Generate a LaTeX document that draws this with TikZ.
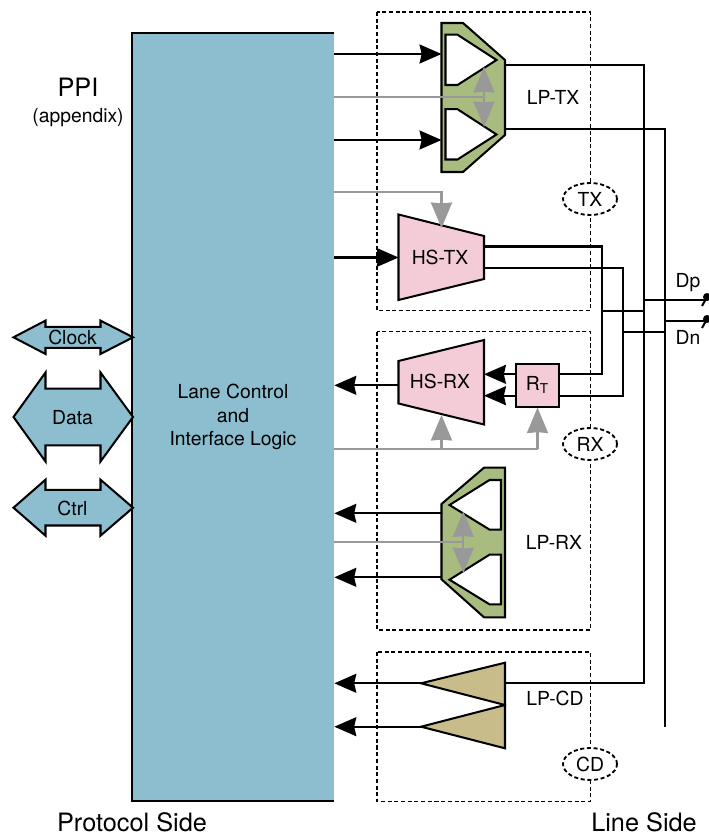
\documentclass[tikz,border=0pt]{standalone}
\usepackage{fontspec}
\setmainfont{TeX Gyre Heros}
\usetikzlibrary{arrows.meta,positioning,shapes.geometric}
\definecolor{lanecyan}{RGB}{140,190,207}
\definecolor{lanepink}{RGB}{244,204,216}
\definecolor{lanegreen}{RGB}{168,188,128}
\definecolor{lanetan}{RGB}{200,188,138}
\definecolor{lanegray}{RGB}{153,153,153}
\tikzset{
  wire/.style={line width=1.15pt},
  sigarrow/.style={wire, -{Stealth[length=12.5pt,width=10.8pt,inset=1.2pt]}},
  ctlline/.style={line width=1.15pt, lanegray},
  ctlarrow/.style={ctlline, -{Stealth[length=14.5pt,width=12pt,inset=0.5pt]}},
  ctlboth/.style={ctlline, {Stealth[length=14.5pt,width=12pt,inset=0.5pt]}-{Stealth[length=14.5pt,width=12pt,inset=0.5pt]}},
  block/.style={draw, line width=1.15pt, line join=miter},
  zonebox/.style={draw, line width=1.05pt, dash pattern=on 2.3pt off 1.5pt},
  zonetag/.style={ellipse, draw, fill=white, line width=1.05pt, dash pattern=on 2.3pt off 1.5pt,
    minimum width=1.08cm, minimum height=0.64cm, inner sep=0pt, font=\fontsize{11}{13}\selectfont},
  lbl/.style={inner sep=0pt, font=\fontsize{11}{13}\selectfont},
  biglbl/.style={inner sep=0pt, font=\fontsize{14.4}{16}\selectfont}
}
\begin{document}
\begin{tikzpicture}[x=0.02cm,y=-0.02cm]
  \useasboundingbox (0,0) rectangle (709,834);
  % Dashed zones
  \draw[zonebox] (377,12) rectangle (590.5,310.5);
  \draw[zonebox] (377,331.5) rectangle (590.5,630);
  \draw[zonebox] (377,652) rectangle (590.5,801.5);
  \node[zonetag] (tagtx) at (590,199) {TX};
  \node[zonetag] (tagrx) at (590,444) {RX};
  \node[zonetag] (tagcd) at (590,764) {CD};
  % Protocol block, open on its right side
  \node[fill=lanecyan, minimum width=4.04cm, minimum height=15.36cm, inner sep=0pt, align=center,
        font=\fontsize{11}{13.4}\selectfont] (logic) at (233,417) {Lane Control\\and\\Interface Logic};
  \draw[wire] (logic.north east) -- (logic.north west) -- (logic.south west) -- (logic.south east);
  % Buses on the left
  \foreach \name/\cy/\hw/\hb in {Clock/337.3/16.7/10.5,Data/417/44.5/28.3,Ctrl/507.7/28/17.8} {
    \draw[block, fill=lanecyan] (13.5,\cy) -- (45.5,\cy-\hw) -- (45.5,\cy-\hb) -- (100.5,\cy-\hb) -- (100.5,\cy-\hw)
      -- (133,\cy) -- (100.5,\cy+\hw) -- (100.5,\cy+\hb) -- (45.5,\cy+\hb) -- (45.5,\cy+\hw) -- cycle;
    \node[lbl] (bus\name) at (72.5,\cy+0.5) {\name};
  }
  % LP-TX
  \draw[block, fill=lanegreen] (441.5,23) -- (463,23) -- (505,60) -- (505,135) -- (463,172) -- (441.5,172) -- cycle;
  \foreach \dy in {0,74.5} {
    \draw[block, fill=white] (445.5,34.7+\dy) -- (457.5,34.7+\dy) -- (496.5,60+\dy) -- (457.5,85+\dy) -- (445.5,85+\dy) -- cycle;
  }
  \node[lbl] (lptx) at (553,97) {LP-TX};
  \coordinate (lptxa) at (441.5,54);
  \coordinate (lptxb) at (441.5,140);
  \coordinate (lptxc) at (484,97);
  \coordinate (lptxt) at (484,67);
  \coordinate (lptxu) at (484,127);
  \coordinate (lptxp) at (505,65);
  \coordinate (lptxn) at (505,129);
  % HS-TX
  \draw[block, fill=lanepink] (398.5,214.5) -- (484,236) -- (484,279) -- (398.5,300) -- cycle;
  \node[lbl] (hstx) at (440,257) {HS-TX};
  \coordinate (hstxa) at (398.5,257.5);
  \coordinate (hstxc) at (441.5,228);
  \coordinate (hstxp) at (484,246.5);
  \coordinate (hstxn) at (484,268);
  % HS-RX and termination
  \draw[block, fill=lanepink] (398.5,361) -- (484,340) -- (484,424.5) -- (398.5,403.5) -- cycle;
  \node[lbl] (hsrx) at (440,381) {HS-RX};
  \node[block, fill=lanepink, minimum width=0.86cm, minimum height=0.85cm, inner sep=0pt,
        font=\fontsize{11}{13}\selectfont] (rterm) at (537.5,385.3) {R\textsubscript{T}};
  \coordinate (hsrxp) at (484,374.3);
  \coordinate (hsrxn) at (484,395.7);
  \coordinate (hsrxo) at (398.5,385.3);
  \coordinate (hsrxc) at (441.5,415);
  % LP-RX
  \draw[block, fill=lanegreen] (505,467.7) -- (484,467.7) -- (441.5,504) -- (441.5,579.3) -- (484,617.3) -- (505,617.3) -- cycle;
  \foreach \dy in {0,74.7} {
    \draw[block, fill=white] (501,480+\dy) -- (489.5,480+\dy) -- (449.5,505+\dy) -- (489.5,529.6+\dy) -- (501,529.6+\dy) -- cycle;
  }
  \node[lbl] (lprx) at (554,542) {LP-RX};
  \coordinate (lprxa) at (441.5,513.3);
  \coordinate (lprxb) at (441.5,577.3);
  \coordinate (lprxc) at (463.3,542.3);
  \coordinate (lprxt) at (463.3,511.5);
  \coordinate (lprxu) at (463.3,573);
  % LP-CD
  \draw[block, fill=lanetan] (505,662.7) -- (421,683.3) -- (505,705) -- cycle;
  \draw[block, fill=lanetan] (505,705) -- (421,726.7) -- (505,748.3) -- cycle;
  \node[lbl] (lpcd) at (555,698) {LP-CD};
  \coordinate (lpcda) at (421,683.3);
  \coordinate (lpcdb) at (421,726.7);
  \coordinate (lpcdp) at (505,683.3);
  % Signals to and from the protocol block
  \draw[sigarrow] (lptxa -| logic.east) -- (lptxa);
  \draw[sigarrow] (lptxb -| logic.east) -- (lptxb);
  \draw[sigarrow] (hstxa -| logic.east) -- (hstxa);
  \draw[sigarrow] (hsrxo) -- (hsrxo -| logic.east);
  \draw[sigarrow] (lprxa) -- (lprxa -| logic.east);
  \draw[sigarrow] (lprxb) -- (lprxb -| logic.east);
  \draw[sigarrow] (lpcda) -- (lpcda -| logic.east);
  \draw[sigarrow] (lpcdb) -- (lpcdb -| logic.east);
  % Control lines
  \coordinate (ctltx) at (441.5,192);
  \coordinate (ctlrx) at (441.5,449.3);
  \draw[ctlline] (lptxc -| logic.east) -- (lptxc);
  \draw[ctlboth] (lptxt) -- (lptxu);
  \draw[ctlarrow] (ctltx -| logic.east) -- (ctltx) -- (hstxc);
  \draw[ctlline] (ctlrx -| logic.east) -- (ctlrx -| rterm.south);
  \draw[ctlarrow] (ctlrx) -- (hsrxc);
  \draw[ctlarrow] (ctlrx -| rterm.south) -- (rterm.south);
  \draw[ctlline] (lprxc -| logic.east) -- (lprxc);
  \draw[ctlboth] (lprxt) -- (lprxu);
  % Line side wiring
  \coordinate (padp) at (707,297);
  \coordinate (padn) at (707,319);
  \coordinate (stubp) at (706,300);
  \coordinate (stubn) at (706,321);
  \coordinate (tickp) at (702,306);
  \coordinate (tickn) at (702,328);
  \coordinate (railc) at (644,310.7);
  \coordinate (raild) at (665.3,332);
  \coordinate (hsp) at (601.7,374.3);
  \coordinate (hsn) at (622.7,395.7);
  \coordinate (railend) at (665.3,726.7);
  \draw[wire] (lptxp) -| (railc |- lpcdp) -- (lpcdp);
  \draw[wire] (lptxn) -| (railend);
  \draw[wire] (hstxp) -| (hsp) -- (hsp -| rterm.east);
  \draw[wire] (hstxn) -| (hsn) -- (hsn -| rterm.east);
  \draw[wire] (hsp |- railc) -- (railc);
  \draw[wire] (hsn |- raild) -- (raild);
  \draw[wire] (railc |- stubp) -- (stubp);
  \draw[wire] (raild |- stubn) -- (stubn);
  \draw[sigarrow] (hsp -| rterm.west) -- (hsrxp);
  \draw[sigarrow] (hsn -| rterm.west) -- (hsrxn);
  % Pads
  \fill (padp) circle (4);
  \fill (padn) circle (4);
  \draw[wire] (padp) -- (tickp);
  \draw[wire] (padn) -- (tickn);
  \node[lbl] (dp) at (688,283) {Dp};
  \node[lbl] (dn) at (688,337) {Dn};
  % Titles
  \node[biglbl] (ppi) at (78,87) {PPI};
  \node[lbl] (appendix) at (78,118) {(appendix)};
  \node[biglbl] (protocol) at (132,822) {Protocol Side};
  \node[biglbl] (line) at (644,822) {Line Side};
\end{tikzpicture}
\end{document}
